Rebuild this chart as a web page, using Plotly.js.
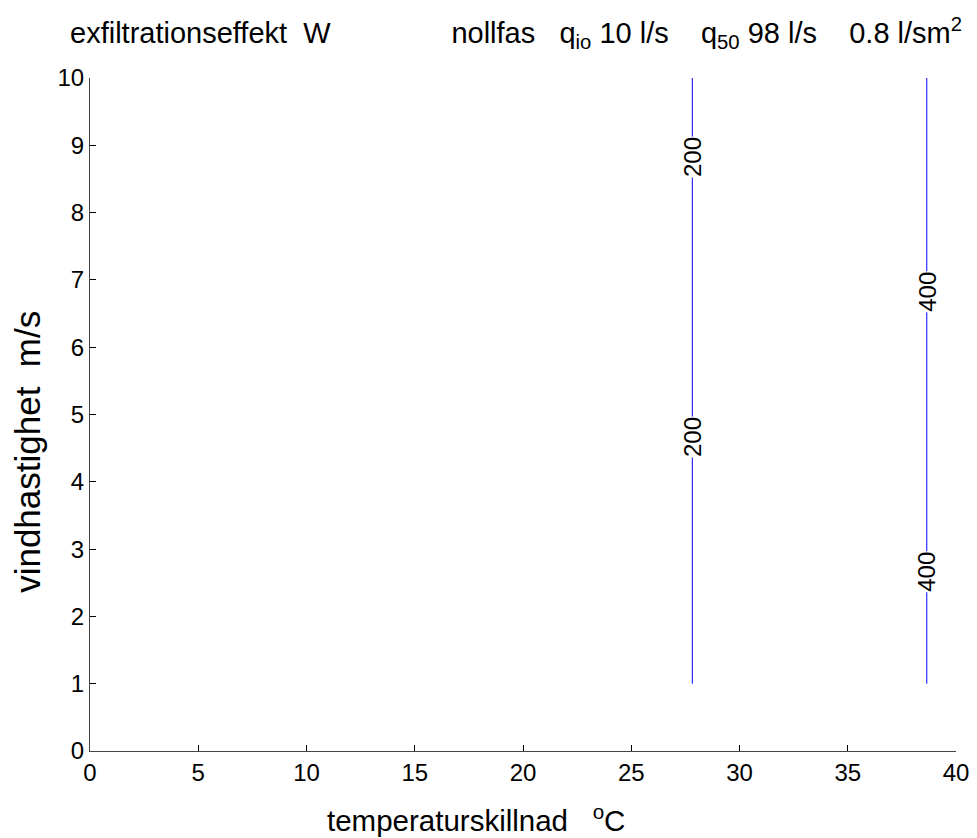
<!DOCTYPE html>
<html>
<head>
<meta charset="utf-8">
<script src="https://cdn.plot.ly/plotly-3.0.1.min.js"></script>
<style>html,body{margin:0;padding:0;background:#fff}#chart{width:977px;height:838px}</style>
</head>
<body>
<div id="chart"></div>
<script>
// Contour levels (W) and their x-position (temperature difference, °C)
var levels = [200, 400];
var levelX = [27.82, 38.65];
// Vertical extent of each contour line (wind speed, m/s)
var lineYStart = [1, 1];
var lineYEnd = [10, 10];
// Label positions (wind speed) for each level
var labelY200 = [8.83, 4.67];
var labelY400 = [6.82, 2.66];
var xTicks = [0, 5, 10, 15, 20, 25, 30, 35, 40];
var yTicks = [0, 1, 2, 3, 4, 5, 6, 7, 8, 9, 10];

var font = 'Liberation Sans, Arial, sans-serif';
var traces = levels.map(function(lv, i) {
  return {
    type: 'scatter', mode: 'lines',
    x: [levelX[i], levelX[i]],
    y: [lineYStart[i], lineYEnd[i]],
    line: {color: '#0000ff', width: 1},
    hoverinfo: 'skip', showlegend: false
  };
});

var labelSets = [labelY200, labelY400];
var annotations = [];
labelSets.forEach(function(ys, i) {
  ys.forEach(function(y) {
    annotations.push({
      x: levelX[i], y: y, xref: 'x', yref: 'y',
      text: String(levels[i]), showarrow: false, textangle: -90,
      font: {family: font, size: 24, color: '#000'},
      bgcolor: '#ffffff', borderpad: 0
    });
  });
});
annotations.push({
  xref: 'paper', yref: 'paper', x: -0.072, y: 0.444,
  text: 'vindhastighet  m/s', showarrow: false, textangle: -90,
  xanchor: 'center', yanchor: 'middle',
  font: {family: font, size: 35, color: '#000'}
});
annotations.push({
  xref: 'paper', yref: 'paper', x: 0.4457, y: -0.1,
  text: 'temperaturskillnad   <sup>o</sup>C', showarrow: false,
  xanchor: 'center', yanchor: 'middle',
  font: {family: font, size: 29.5, color: '#000'}
});

var S = '&nbsp;';
function sp(n) { var s = ''; for (var k = 0; k < n; k++) s += S; return s; }

var layout = {
  width: 977, height: 838,
  margin: {l: 90, r: 21, t: 78, b: 87},
  paper_bgcolor: '#fff', plot_bgcolor: '#fff',
  showlegend: false,
  title: {
    text: 'exfiltrationseffekt' + sp(2) + 'W' + sp(15) + 'nollfas' + sp(3) + 'q<sub>io</sub> 10 l/s' + sp(4) +
          'q<sub>50</sub> 98 l/s' + sp(4) + '0.8 l/sm<sup>2</sup>',
    x: 70 / 977, xref: 'container', xanchor: 'left',
    y: 0.961, yref: 'container', yanchor: 'middle',
    font: {family: font, size: 29, color: '#000'}
  },
  xaxis: {
    range: [0, 40], tickvals: xTicks, ticktext: xTicks.map(String),
    ticks: 'inside', ticklen: 6, tickcolor: '#000', tickwidth: 1,
    showline: true, linecolor: '#444', linewidth: 1, mirror: false,
    showgrid: false, zeroline: false,
    tickfont: {family: font, size: 24, color: '#000'}
  },
  yaxis: {
    range: [0, 10], tickvals: yTicks, ticktext: yTicks.map(String),
    ticks: 'inside', ticklen: 6, tickcolor: '#000', tickwidth: 1,
    showline: true, linecolor: '#444', linewidth: 1, mirror: false,
    showgrid: false, zeroline: false,
    tickfont: {family: font, size: 24, color: '#000'}
  },
  annotations: annotations
};

Plotly.newPlot('chart', traces, layout, {staticPlot: true, displayModeBar: false});
</script>
</body>
</html>
